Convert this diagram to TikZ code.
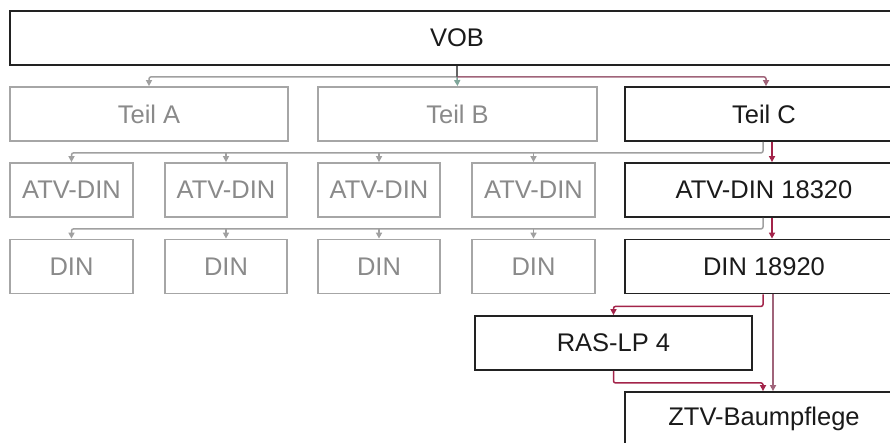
\documentclass[tikz,border=0pt]{standalone}
\usepackage{fontspec}
\setmainfont{Liberation Sans}
\usetikzlibrary{arrows.meta,calc}
\definecolor{gbox}{HTML}{A6A6A6}
\definecolor{gtext}{HTML}{8A8A8A}
\definecolor{dbox}{HTML}{222222}
\definecolor{dtext}{HTML}{1A1A1A}
\definecolor{gline}{HTML}{A0A0A0}
\definecolor{rline}{HTML}{A3244A}
\definecolor{mline}{HTML}{A0647A}
\definecolor{tline}{HTML}{7FA69A}
\tikzset{
  box/.style={draw, rectangle, inner sep=0pt, minimum height=54pt, line width=1.8pt,
    font=\fontsize{25.5}{28}\selectfont},
  gbx/.style={box, draw=gbox, text=gtext},
  dbx/.style={box, draw=dbox, text=dtext},
  tip/.style={-{Triangle[length=6pt,width=6pt]}},
  gcon/.style={tip, draw=gline, line width=1.5pt, rounded corners=2pt},
  rcon/.style={tip, draw=rline, line width=1.5pt, rounded corners=2pt},
  mcon/.style={tip, draw=mline, line width=1.5pt, rounded corners=2pt},
  tcon/.style={tip, draw=tline, line width=1.5pt},
}
\begin{document}
\begin{tikzpicture}[x=1pt,y=-1pt]
\useasboundingbox (0,0) rectangle (890,442);
\clip (0,0) rectangle (890,442);
\fill[white] (0,0) rectangle (890,442);
% nodes
\node[dbx, minimum width=894pt] (vob) at (457,38) {VOB};
\node[gbx, minimum width=278pt] (teilA) at (149,114) {Teil A};
\node[gbx, minimum width=279pt] (teilB) at (457.5,114) {Teil B};
\node[dbx, minimum width=278pt] (teilC) at (764,114) {Teil C};
\node[gbx, minimum width=123pt] (atv1) at (71.5,190) {ATV-DIN};
\node[gbx, minimum width=122pt] (atv2) at (226,190) {ATV-DIN};
\node[gbx, minimum width=122pt] (atv3) at (379,190) {ATV-DIN};
\node[gbx, minimum width=123pt] (atv4) at (533.5,190) {ATV-DIN};
\node[dbx, minimum width=278pt] (atvC) at (764,190) {ATV-DIN 18320};
\node[gbx, minimum width=123pt] (din1) at (71.5,266.5) {DIN};
\node[gbx, minimum width=122pt] (din2) at (226,266.5) {DIN};
\node[gbx, minimum width=122pt] (din3) at (379,266.5) {DIN};
\node[gbx, minimum width=123pt] (din4) at (533.5,266.5) {DIN};
\node[dbx, minimum width=278pt] (dinC) at (764,266.5) {DIN 18920};
\node[dbx, minimum width=277pt] (ras) at (613.5,343) {RAS-LP 4};
\node[dbx, minimum width=278pt] (ztv) at (764,419) {ZTV-Baumpflege};
% junction coordinates
\coordinate (j0) at ($(vob.south)+(0,11)$);
\coordinate (j1) at ($(teilC.south)+(-1,11)$);
\coordinate (j2) at ($(atvC.south)+(-1,11)$);
\coordinate (j3) at ($(dinC.south)+(-1,12)$);
\coordinate (j4) at ($(ras.south)+(0,12)$);
% VOB -> Teil
\draw[gcon] (j0) -| (teilA.north);
\draw[tcon] (j0) -- (teilB.north);
\draw[mcon] (j0) -| ([xshift=2pt]teilC.north);
\draw[draw=dbox!70, line width=1.5pt] (vob.south) -- (j0);
% Teil C -> ATV
\draw[gcon] ([xshift=-1pt]teilC.south) -- (j1) -| (atv1.north);
\draw[gcon] (atv2.north |- j1) -- (atv2.north);
\draw[gcon] (atv3.north |- j1) -- (atv3.north);
\draw[gcon] (atv4.north |- j1) -- (atv4.north);
\draw[rcon] ([xshift=8pt]teilC.south) -- ([xshift=8pt]atvC.north);
% ATV-DIN 18320 -> DIN
\draw[gcon] ([xshift=-1pt]atvC.south) -- (j2) -| (din1.north);
\draw[gcon] (din2.north |- j2) -- (din2.north);
\draw[gcon] (din3.north |- j2) -- (din3.north);
\draw[gcon] (din4.north |- j2) -- (din4.north);
\draw[rcon] ([xshift=8pt]atvC.south) -- ([xshift=8pt]dinC.north);
% DIN 18920 -> RAS-LP 4, ZTV
\draw[rcon] ([xshift=-1pt]dinC.south) -- (j3) -| (ras.north);
\draw[mcon] ([xshift=9pt]dinC.south) -- ([xshift=9pt]ztv.north);
\draw[rcon] (ras.south) -- (j4) -| ([xshift=-1pt]ztv.north);
\end{tikzpicture}
\end{document}
